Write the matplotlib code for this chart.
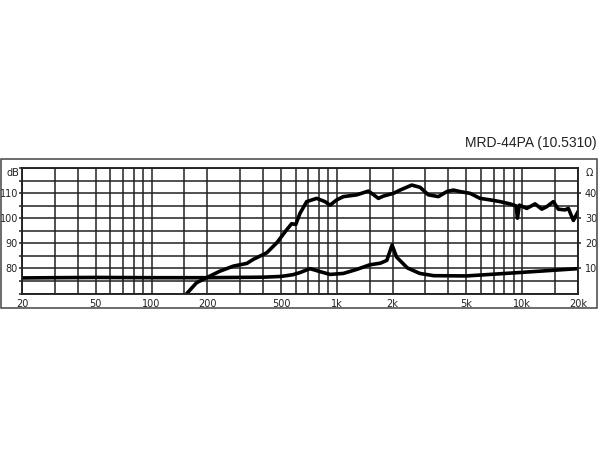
import matplotlib
matplotlib.use("Agg")
import matplotlib.pyplot as plt
from matplotlib.patches import Rectangle
import numpy as np

# Frequency response (dB SPL)
spl_freq = [150, 155, 175, 198, 234, 276, 327, 354, 418, 474, 536, 570, 600, 632,
            687, 778, 863, 919, 998, 1084, 1280, 1479, 1541, 1675, 1782, 2018,
            2193, 2535, 2812, 3118, 3532, 3919, 4253, 4621, 5234, 5925, 6711,
            7600, 8600, 9270, 9425, 9650, 10580, 11730, 12760, 13560, 14730,
            15660, 17020, 17740, 18890, 20000]
spl_db = [68, 70, 74.3, 76.3, 78.9, 80.9, 82.0, 83.6, 86.2, 90.2, 95.4, 97.8, 97.5, 101.9,
          106.6, 107.9, 106.6, 105.2, 107.3, 108.6, 109.3, 110.8, 109.9, 107.9, 108.8, 109.9,
          111.2, 113.2, 112.3, 109.3, 108.6, 110.6, 111.2, 110.6, 109.9, 107.9, 107.3,
          106.6, 105.7, 104.9, 100.0, 105.2, 103.9, 105.7, 103.6, 104.6, 106.6,
          103.6, 103.3, 103.9, 99.1, 102.6]

# Impedance (Ohm)
imp_freq = [20, 30, 50, 100, 200, 400, 500, 580, 630, 717, 795, 919, 1084, 1280,
            1500, 1720, 1860, 1985, 2100, 2400, 2800, 3330, 5000, 9400, 20000]
imp_ohm = [6.2, 6.3, 6.4, 6.3, 6.3, 6.5, 6.8, 7.5, 8.3, 9.9, 8.9, 7.6, 8.0, 9.6,
           11.4, 12.1, 13.2, 19.3, 14.5, 10.2, 8.0, 7.1, 7.0, 8.3, 9.9]

grid_freqs = [20, 30, 40, 50, 60, 70, 80, 90, 100, 150, 200, 300, 400, 500, 600,
              700, 800, 900, 1000, 1500, 2000, 3000, 4000, 5000, 6000, 7000, 8000,
              9000, 10000, 15000, 20000]
x_labels = {20: "20", 50: "50", 100: "100", 200: "200", 500: "500", 1000: "1k",
            2000: "2k", 5000: "5k", 10000: "10k", 20000: "20k"}
db_ticks = [80, 90, 100, 110]
ohm_ticks = [10, 20, 30, 40]
title = "MRD-44PA (10.5310)"

fig = plt.figure(figsize=(6, 4.5), dpi=100)
ax = fig.add_axes([22/600, 156.5/450, 556/600, 125.5/450])
ax2 = ax.twinx()

ax.set_xscale("log")
ax.set_xlim(20, 20000)
ax.set_ylim(70, 120)
ax2.set_ylim(0, 50)

ax.set_xticks(grid_freqs)
ax.set_xticklabels([x_labels.get(f, "") for f in grid_freqs])
ax.xaxis.set_minor_locator(matplotlib.ticker.NullLocator())
ax.set_yticks(np.arange(70, 121, 5))
ax.set_yticklabels([str(v) if v in db_ticks else "" for v in range(70, 121, 5)])
ax2.set_yticks(ohm_ticks)
ax2.set_yticklabels([str(v) for v in ohm_ticks])

ax.grid(True, which="major", color="#222222", linewidth=1.1)
ax.tick_params(axis="x", length=0, pad=4, labelsize=7, colors="#222222")
ax.tick_params(axis="y", length=2, width=1.1, pad=1, labelsize=7, colors="#222222")
ax2.tick_params(axis="y", length=2, width=1.1, pad=3, labelsize=7, colors="#222222")
for a in (ax, ax2):
    for s in a.spines.values():
        s.set_linewidth(1.1)
        s.set_color("#222222")

ax.plot(spl_freq, spl_db, color="black", linewidth=2.6, solid_joinstyle="round",
        clip_on=True)
ax2.plot(imp_freq, imp_ohm, color="black", linewidth=2.6, solid_joinstyle="round")

ax.text(-0.005, 0.96, "dB", transform=ax.transAxes, ha="right", va="center",
        fontsize=7, color="#222222")
ax2.text(1.014, 0.96, "Ω", transform=ax.transAxes, ha="left", va="center",
         fontsize=7, color="#222222")

fig.patches.append(Rectangle((1/600, 142/450), 596/600, 149/450,
                             transform=fig.transFigure, fill=False,
                             edgecolor="#444444", linewidth=1.1))
fig.text(597/600, 1 - 143/450, title, ha="right", va="center",
         fontsize=10, family="Liberation Sans", color="#222222")

fig.savefig("out.png", dpi=100)
